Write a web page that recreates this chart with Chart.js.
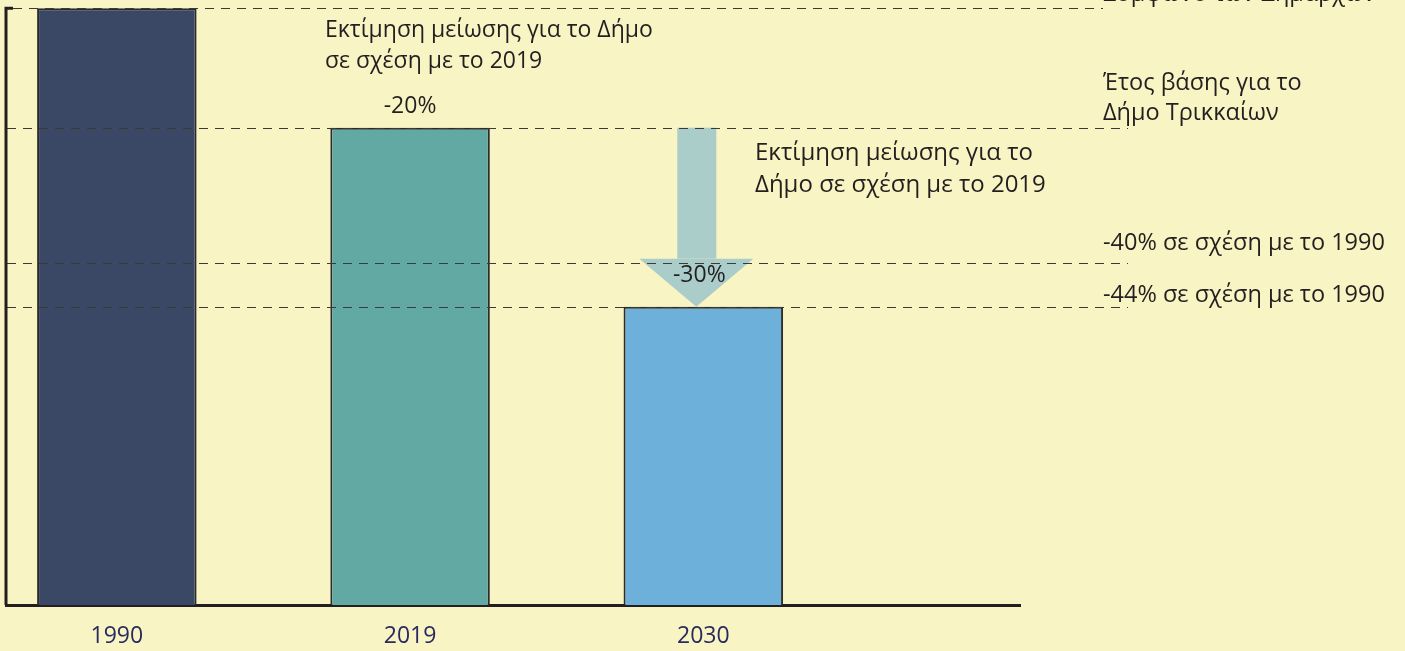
<!DOCTYPE html>
<html>
<head>
<meta charset="utf-8">
<script src="https://cdn.jsdelivr.net/npm/chart.js@4"></script>
<style>
  html, body { margin: 0; padding: 0; background: #f8f4c3; }
  #wrap { width: 1405px; height: 651px; }
</style>
</head>
<body>
<div id="wrap"><canvas id="chart"></canvas></div>
<script>
// Κατηγορίες (έτη)
const years = ['1990', '2019', '2030'];
// Τιμές ράβδων (1990 = 100)
const values = [100, 80, 50];
const barColors = ['#3a4866', '#62a9a4', '#6db0da'];

// Οριζόντιες διακεκομμένες γραμμές
const refLevels = [100, 80, 57.4, 50];

// Κείμενα δεξιά
const rightNotes = [
    { level: 100, lines: ['Σύμφωνο των Δημάρχων'] },
    { level: 80, lines: ['Έτος βάσης για το', 'Δήμο Τρικκαίων'] },
    { level: 57.4, lines: ['-40% σε σχέση με το 1990'] },
    { level: 50, lines: ['-44% σε σχέση με το 1990'] }
];
const noteA = ['Εκτίμηση μείωσης για το Δήμο', 'σε σχέση με το 2019'];
const noteB = ['Εκτίμηση μείωσης για το', 'Δήμο σε σχέση με το 2019'];
const changeLabels = ['', '-20%', '-30%'];

const FONT = '23px "Open Sans", sans-serif';
const TEXT = '#231f20';

const annotations = {
    id: 'annotations',
    beforeDatasetsDraw(chart) {
        const { ctx, scales: { x, y } } = chart;
        // βέλος μείωσης
        const cx = x.getPixelForValue(2) - 7;
        const yTop = y.getPixelForValue(values[1]);
        const yTip = y.getPixelForValue(values[2]);
        const yHead = yTip - 48;
        ctx.save();
        ctx.fillStyle = '#aacdc9';
        ctx.fillRect(cx - 19, yTop, 39, yHead - yTop);
        ctx.beginPath();
        ctx.moveTo(cx - 57, yHead);
        ctx.lineTo(cx + 57, yHead);
        ctx.lineTo(cx, yTip);
        ctx.closePath();
        ctx.fill();
        ctx.restore();
    },
    afterDatasetsDraw(chart) {
        const { ctx, chartArea, scales: { x, y } } = chart;
        ctx.save();
        // διακεκομμένες γραμμές
        ctx.strokeStyle = '#3a3a3a';
        ctx.lineWidth = 1;
        ctx.setLineDash([9, 7]);
        refLevels.forEach((v, i) => {
            const py = Math.round(y.getPixelForValue(v)) + 0.5;
            ctx.beginPath();
            ctx.moveTo(chartArea.left + (i === 0 ? 7 : 1), py);
            ctx.lineTo(i === 0 ? 1103 : 1128, py);
            ctx.stroke();
        });
        ctx.setLineDash([]);

        // άξονας y
        ctx.strokeStyle = '#231f20';
        ctx.lineWidth = 3;
        const top = y.getPixelForValue(100);
        ctx.beginPath();
        ctx.moveTo(chartArea.left + 7, top);
        ctx.lineTo(chartArea.left, top);
        ctx.lineTo(chartArea.left, chartArea.bottom);
        ctx.stroke();

        // κείμενα
        ctx.fillStyle = TEXT;
        ctx.textBaseline = 'alphabetic';
        ctx.textAlign = 'left';
        ctx.font = '23.5px "Open Sans", sans-serif';
        rightNotes.forEach(n => {
            const py = y.getPixelForValue(n.level);
            let base;
            if (n.level === 100) base = py - 7;
            else if (n.level === 80) base = py - 38;
            else if (n.level === 50) base = py - 5;
            else base = py - 13;
            n.lines.forEach((t, k) => ctx.fillText(t, 1103, base + k * 30));
        });
        ctx.font = FONT;
        noteA.forEach((t, k) => ctx.fillText(t, 325, 37 + k * 31));
        ctx.font = '24px "Open Sans", sans-serif';
        noteB.forEach((t, k) => ctx.fillText(t, 755, 160 + k * 32));

        ctx.font = FONT;
        ctx.textAlign = 'center';
        changeLabels.forEach((t, i) => {
            if (!t) return;
            const px = x.getPixelForValue(i) - (i === 2 ? 4 : 0);
            const py = i === 2 ? y.getPixelForValue(values[i]) - 25 : y.getPixelForValue(values[i]) - 15;
            ctx.fillText(t, px, py);
        });
        ctx.restore();
    }
};

const ctx = document.getElementById('chart').getContext('2d');
new Chart(ctx, {
    type: 'bar',
    data: {
        datasets: [{
            data: values.map((v, i) => ({ x: i, y: v })),
            backgroundColor: barColors,
            borderColor: '#2b2b2b',
            borderWidth: 2,
            borderSkipped: 'bottom',
            barPercentage: 0.544,
            categoryPercentage: 1,
            clip: false
        }]
    },
    options: {
        responsive: true,
        maintainAspectRatio: false,
        animation: false,
        layout: { padding: { left: 6, right: 385, top: 0, bottom: 0 } },
        plugins: {
            legend: { display: false },
            tooltip: { enabled: false }
        },
        scales: {
            x: {
                type: 'linear',
                offset: false,
                bounds: 'data',
                min: -0.378,
                max: 3.08,
                afterBuildTicks: (axis) => {
                    axis.ticks = years.map((_, i) => ({ value: i }));
                },
                afterFit: (axis) => { axis.height = 46; },
                ticks: {
                    callback: (value) => years[value] ?? '',
                    color: '#2b2a5e',
                    font: { family: '"Open Sans", sans-serif', size: 23 },
                    padding: 10,
                    maxRotation: 0,
                    autoSkip: false
                },
                grid: { display: false },
                border: { display: true, color: '#231f20', width: 3 }
            },
            y: {
                display: false,
                min: 0,
                max: 101.4
            }
        }
    },
    plugins: [annotations]
});
</script>
</body>
</html>
